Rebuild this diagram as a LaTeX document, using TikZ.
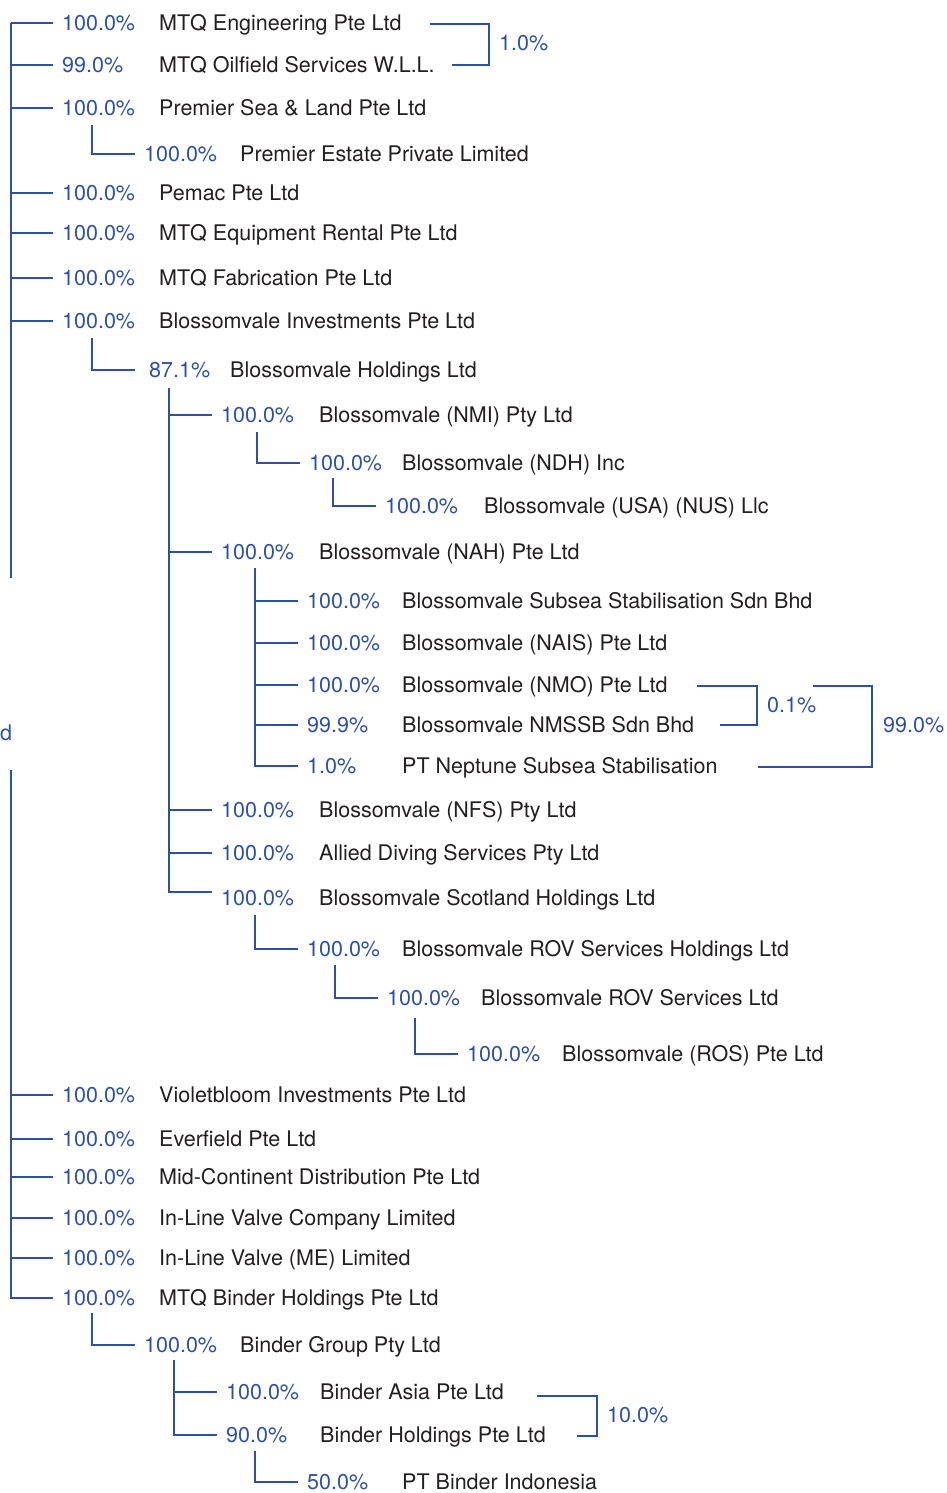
\documentclass[tikz,border=0pt]{standalone}
\usepackage{fontspec}
\setmainfont{TeX Gyre Heros}
\usepackage{xcolor}
\usepackage{tikz}
\usetikzlibrary{positioning}

\definecolor{mtqblue}{RGB}{44,80,166}
\definecolor{mtqgrey}{RGB}{35,31,32}

\begin{document}
\begin{tikzpicture}[
        x=1pt, y=-1pt,
        font=\fontsize{21.5}{25}\selectfont,
        pct/.style={anchor=west, text=mtqblue, inner xsep=9pt, inner ysep=0pt, text height=15pt, text depth=0pt},
        firm/.style={anchor=west, text=mtqgrey, inner sep=0pt, text height=15pt, text depth=0pt},
        share/.style={anchor=west, text=mtqblue, inner sep=0pt, text height=15pt, text depth=0pt},
        link/.style={draw=mtqblue, line width=1.2pt}
    ]
    \useasboundingbox (0,0) rectangle (947,1493);

    % top level, upper part
    \coordinate (t0) at (11,23);
    \coordinate (t0end) at (11,578);
    \node [pct] (pEng) at (53,23) {100.0\%};
    \node [firm] (fEng) at (159,23) {MTQ Engineering Pte Ltd};
    \node [pct] (pOil) at (53,65) {99.0\%};
    \node [firm] (fOil) at (159,65) {MTQ Oilfield Services W.L.L.};
    \node [pct] (pPSL) at (53,108) {100.0\%};
    \node [firm] (fPSL) at (159,108) {Premier Sea \& Land Pte Ltd};
    \node [pct] (pPem) at (53,193) {100.0\%};
    \node [firm] (fPem) at (159,193) {Pemac Pte Ltd};
    \node [pct] (pRent) at (53,233) {100.0\%};
    \node [firm] (fRent) at (159,233) {MTQ Equipment Rental Pte Ltd};
    \node [pct] (pFab) at (53,278) {100.0\%};
    \node [firm] (fFab) at (159,278) {MTQ Fabrication Pte Ltd};
    \node [pct] (pInv) at (53,321) {100.0\%};
    \node [firm] (fInv) at (159,321) {Blossomvale Investments Pte Ltd};

    \draw [link] (t0) |- (pEng.west);
    \draw [link] (t0) |- (pOil.west);
    \draw [link] (t0) |- (pPSL.west);
    \draw [link] (t0) |- (pPem.west);
    \draw [link] (t0) |- (pRent.west);
    \draw [link] (t0) |- (pFab.west);
    \draw [link] (t0) |- (pInv.west);
    \draw [link] (t0) -- (t0end);

    % cross holding 1.0%
    \coordinate (bEngA) at (430,24);
    \coordinate (bEngB) at (452,65);
    \node [share] (sEng) at (499,43) {1.0\%};
    \draw [link] (bEngA) -| (sEng.west -| 489,0) |- (bEngB);

    % Premier Estate
    \coordinate (t1a) at (92,125);
    \node [pct] (pEst) at (135,154) {100.0\%};
    \node [firm] (fEst) at (240,154) {Premier Estate Private Limited};
    \draw [link] (t1a) |- (pEst.west);

    % Blossomvale Holdings
    \coordinate (t1b) at (92,338);
    \node [pct, inner xsep=14pt] (pHold) at (135,370) {87.1\%};
    \node [firm] (fHold) at (230,370) {Blossomvale Holdings Ltd};
    \draw [link] (t1b) |- (pHold.west);

    \coordinate (t2a) at (169,388);
    \node [pct] (pNMI) at (212,415) {100.0\%};
    \node [firm] (fNMI) at (319,415) {Blossomvale (NMI) Pty Ltd};
    \node [pct] (pNAH) at (212,552) {100.0\%};
    \node [firm] (fNAH) at (319,552) {Blossomvale (NAH) Pte Ltd};
    \node [pct] (pNFS) at (212,810) {100.0\%};
    \node [firm] (fNFS) at (319,810) {Blossomvale (NFS) Pty Ltd};
    \node [pct] (pADS) at (212,853) {100.0\%};
    \node [firm] (fADS) at (319,853) {Allied Diving Services Pty Ltd};
    \node [pct] (pScot) at (212,898) {100.0\%};
    \node [firm] (fScot) at (319,898) {Blossomvale Scotland Holdings Ltd};

    \draw [link] (t2a) |- (pNMI.west);
    \draw [link] (t2a) |- (pNAH.west);
    \draw [link] (t2a) |- (pNFS.west);
    \draw [link] (t2a) |- (pADS.west);
    \draw [link] (t2a) |- ([yshift=6pt]pScot.west);

    % NMI branch
    \coordinate (t3a) at (257,432);
    \node [pct] (pNDH) at (300,463) {100.0\%};
    \node [firm] (fNDH) at (402,463) {Blossomvale (NDH) Inc};
    \draw [link] (t3a) |- (pNDH.west);
    \coordinate (t4a) at (333,478);
    \node [pct] (pNUS) at (376,506) {100.0\%};
    \node [firm] (fNUS) at (484,506) {Blossomvale (USA) (NUS) Llc};
    \draw [link] (t4a) |- (pNUS.west);

    % NAH branch
    \coordinate (t3b) at (255,568);
    \node [pct] (pSSS) at (298,601) {100.0\%};
    \node [firm] (fSSS) at (402,601) {Blossomvale Subsea Stabilisation Sdn Bhd};
    \node [pct] (pNAIS) at (298,643) {100.0\%};
    \node [firm] (fNAIS) at (402,643) {Blossomvale (NAIS) Pte Ltd};
    \node [pct] (pNMO) at (298,685) {100.0\%};
    \node [firm] (fNMO) at (402,685) {Blossomvale (NMO) Pte Ltd};
    \node [pct] (pNMS) at (298,725) {99.9\%};
    \node [firm] (fNMS) at (402,725) {Blossomvale NMSSB Sdn Bhd};
    \node [pct] (pPTN) at (298,766) {1.0\%};
    \node [firm] (fPTN) at (402,766) {PT Neptune Subsea Stabilisation};

    \draw [link] (t3b) |- (pSSS.west);
    \draw [link] (t3b) |- (pNAIS.west);
    \draw [link] (t3b) |- (pNMO.west);
    \draw [link] (t3b) |- (pNMS.west);
    \draw [link] (t3b) |- (pPTN.west);

    % cross holdings 0.1% / 99.0%
    \coordinate (bNMOa) at (697,686);
    \coordinate (bNMSa) at (720,725);
    \node [share] (sNMS) at (767,705) {0.1\%};
    \draw [link] (bNMOa) -| (sNMS.west -| 757,0) |- (bNMSa);
    \coordinate (bNMOb) at (813,686);
    \coordinate (bPTNb) at (758,767);
    \node [share] (sPTN) at (883,725) {99.0\%};
    \draw [link] (bNMOb) -| (sPTN.west -| 872,0) |- (bPTNb);

    % Scotland branch
    \coordinate (t3c) at (255,915);
    \node [pct] (pROVH) at (298,949) {100.0\%};
    \node [firm] (fROVH) at (402,949) {Blossomvale ROV Services Holdings Ltd};
    \draw [link] (t3c) |- (pROVH.west);
    \coordinate (t4b) at (335,965);
    \node [pct] (pROV) at (378,998) {100.0\%};
    \node [firm] (fROV) at (481,998) {Blossomvale ROV Services Ltd};
    \draw [link] (t4b) |- (pROV.west);
    \coordinate (t5a) at (415,1018);
    \node [pct] (pROS) at (458,1054) {100.0\%};
    \node [firm] (fROS) at (562,1054) {Blossomvale (ROS) Pte Ltd};
    \draw [link] (t5a) |- (pROS.west);

    % parent label cut at the edge
    \node [share] (dParent) at (0,733) {d};

    % top level, lower part
    \coordinate (t0b) at (11,770);
    \node [pct] (pVio) at (53,1095) {100.0\%};
    \node [firm] (fVio) at (159,1095) {Violetbloom Investments Pte Ltd};
    \node [pct] (pEve) at (53,1139) {100.0\%};
    \node [firm] (fEve) at (159,1139) {Everfield Pte Ltd};
    \node [pct] (pMid) at (53,1177) {100.0\%};
    \node [firm] (fMid) at (159,1177) {Mid-Continent Distribution Pte Ltd};
    \node [pct] (pILV) at (53,1218) {100.0\%};
    \node [firm] (fILV) at (159,1218) {In-Line Valve Company Limited};
    \node [pct] (pILME) at (53,1258) {100.0\%};
    \node [firm] (fILME) at (159,1258) {In-Line Valve (ME) Limited};
    \node [pct] (pBin) at (53,1298) {100.0\%};
    \node [firm] (fBin) at (159,1298) {MTQ Binder Holdings Pte Ltd};

    \draw [link] (t0b) |- (pVio.west);
    \draw [link] (t0b) |- (pEve.west);
    \draw [link] (t0b) |- (pMid.west);
    \draw [link] (t0b) |- (pILV.west);
    \draw [link] (t0b) |- (pILME.west);
    \draw [link] (t0b) |- (pBin.west);

    % Binder branch
    \coordinate (t1c) at (92,1313);
    \node [pct] (pBG) at (135,1345) {100.0\%};
    \node [firm] (fBG) at (240,1345) {Binder Group Pty Ltd};
    \draw [link] (t1c) |- (pBG.west);

    \coordinate (t2b) at (174,1360);
    \node [pct] (pBA) at (217,1392) {100.0\%};
    \node [firm] (fBA) at (320,1392) {Binder Asia Pte Ltd};
    \node [pct] (pBH) at (217,1435) {90.0\%};
    \node [firm] (fBH) at (320,1435) {Binder Holdings Pte Ltd};
    \draw [link] (t2b) |- (pBA.west);
    \draw [link] (t2b) |- (pBH.west);

    % cross holding 10.0%
    \coordinate (bBAa) at (537,1396);
    \coordinate (bBHa) at (577,1436);
    \node [share] (sBH) at (607,1415) {10.0\%};
    \draw [link] (bBAa) -| (sBH.west -| 597,0) |- (bBHa);

    \coordinate (t3d) at (255,1451);
    \node [pct] (pBI) at (298,1482) {50.0\%};
    \node [firm] (fBI) at (402,1482) {PT Binder Indonesia};
    \draw [link] (t3d) |- (pBI.west);

\end{tikzpicture}
\end{document}
